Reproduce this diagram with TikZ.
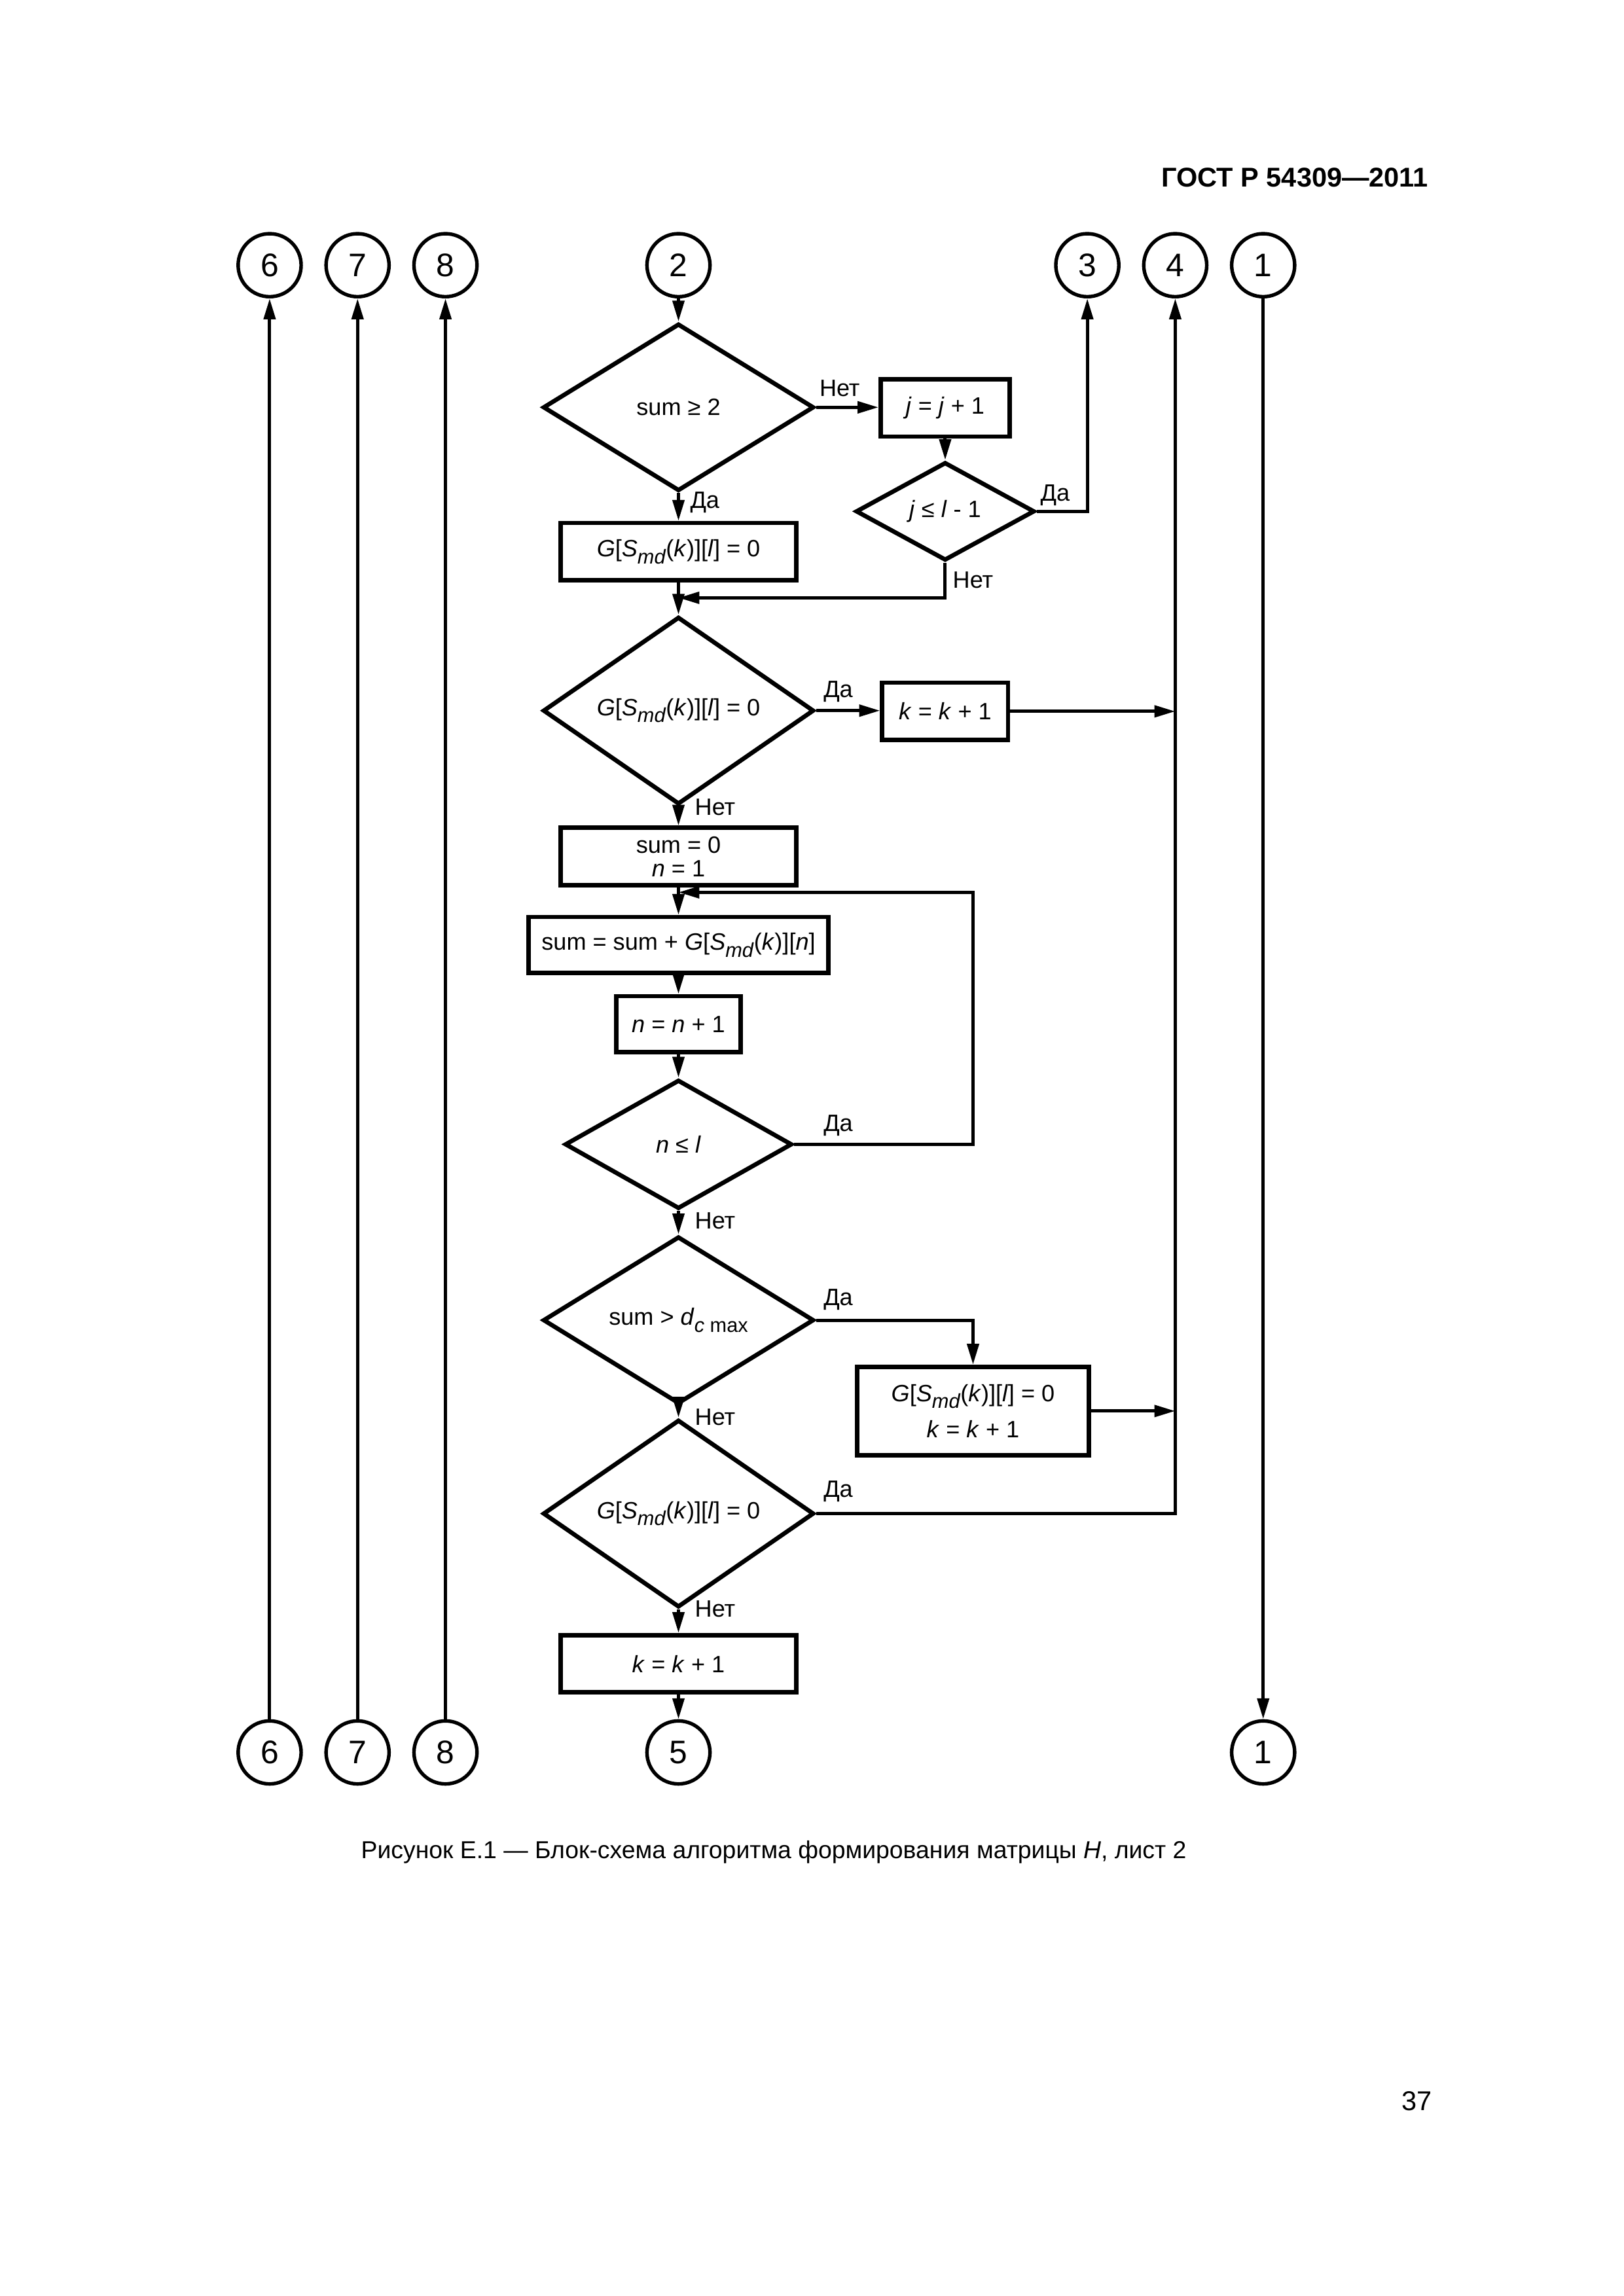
\documentclass[tikz,border=0pt]{standalone}
\usepackage{fontspec}
\setmainfont{Liberation Sans}
\usetikzlibrary{shapes.geometric,arrows.meta}

\newcommand{\lowidx}[1]{\raisebox{-0.55ex}{\fontsize{7.4}{7.4}\selectfont #1}}
\newcommand{\Gsk}{\textit{G}[\textit{S}\lowidx{\textit{md}}(\textit{k})][\textit{l}]}

\tikzset{
  box/.style={draw, line width=1.6pt, inner sep=1pt, minimum height=7.4mm, align=center, font=\fontsize{8.7}{8.7}\selectfont},
  cond/.style={draw, diamond, line width=1.6pt, inner sep=0pt, font=\fontsize{8.7}{8.7}\selectfont},
  conn/.style={draw, circle, line width=1.3pt, minimum size=8.15mm, inner sep=0pt, font=\fontsize{12}{14}\selectfont},
  arr/.style={line width=1.2pt, -{Triangle[length=2.7mm,width=1.5mm]}},
  lbl/.style={inner sep=0pt, font=\fontsize{8.7}{8.7}\selectfont},
}

\begin{document}
\begin{tikzpicture}[x=0.18953mm, y=-0.18953mm]
    %initialisation
    \useasboundingbox (0,0) rectangle (1108,1567);
    %connectors
    \foreach \n/\x in {6/184,7/244,8/304,2/463,3/742,4/802,1/862}
      \node[conn] (t\n) at (\x,181) {\n};
    \foreach \n/\x in {6/184,7/244,8/304,5/463,1/862}
      \node[conn] (b\n) at (\x,1196) {\n};
    %blocks
    \node[cond, minimum width=35.05mm, minimum height=21.64mm] (sum2) at (463,278) {sum ≥ 2};
    \node[box, minimum width=16.68mm] (jinc) at (645,278.5) {\textit{j} = \textit{j} + 1};
    \node[cond, minimum width=23.13mm, minimum height=12.71mm] (jle) at (645,349) {\textit{j} ≤ \textit{l} - 1};
    \node[box, minimum width=30.48mm] (gzero) at (463,376.5) {\Gsk{} = 0};
    \node[cond, minimum width=35.05mm, minimum height=21.64mm] (gtest) at (463,485) {\Gsk{} = 0};
    \node[box, minimum width=16.28mm] (kinc) at (645,485.5) {\textit{k} = \textit{k} + 1};
    \node[box, minimum width=30.48mm] (sinit) at (463,584.5) {sum = 0\\\textit{n} = 1};
    \node[box, minimum width=38.82mm, minimum height=7.25mm] (sadd) at (463,645) {sum = sum + \textit{G}[\textit{S}\lowidx{\textit{md}}(\textit{k})][\textit{n}]};
    \node[box, minimum width=16.08mm, minimum height=7.25mm] (ninc) at (463,699) {\textit{n} = \textit{n} + 1};
    \node[cond, minimum width=29.39mm, minimum height=16.68mm] (nle) at (463,781) {\textit{n} ≤ \textit{l}};
    \node[cond, minimum width=35.05mm, minimum height=21.64mm] (smax) at (463,901) {sum > \textit{d}\lowidx{\textit{c} max}};
    \node[box, minimum width=29.98mm, minimum height=11.42mm] (gkinc) at (664,963) {\Gsk{} = 0\\[1.2mm]\textit{k} = \textit{k} + 1};
    \node[cond, minimum width=35.05mm, minimum height=21.64mm] (gtestb) at (463,1033) {\Gsk{} = 0};
    \node[box, minimum width=30.48mm] (kincb) at (463,1135.5) {\textit{k} = \textit{k} + 1};
    %definitions
    \coordinate (m1) at (463,408);
    \coordinate (m2) at (463,609);
    \coordinate (r2) at (664,609);
    %drawing
    \foreach \n in {6,7,8}
      \draw[arr] (b\n) -- (t\n);
    \draw[arr] (t1) -- (b1);
    \draw[arr] (t2) -- (sum2);
    \draw[arr] (sum2.east) -- (jinc.west |- sum2.east);
    \draw[arr] (jinc) -- (jle);
    \draw[arr] (jle.east) -| (t3);
    \draw[arr] (jle.south) |- (m1);
    \draw[arr] (sum2) -- (gzero);
    \draw[arr] (gzero) -- (gtest);
    \draw[arr] (gtest.east) -- (kinc.west |- gtest.east);
    \draw[arr] (kinc.east) -- (kinc.east -| t4);
    \draw[arr] (gtest) -- (sinit);
    \draw[arr] (sinit) -- (sadd);
    \draw[arr] (sadd) -- (ninc);
    \draw[arr] (ninc) -- (nle);
    \draw[arr] (nle.east) -| (r2) -- (m2);
    \draw[arr] (nle) -- (smax);
    \draw[arr] (smax.east) -| (gkinc.north);
    \draw[arr] (gkinc.east) -- (gkinc.east -| t4);
    \draw[arr] (smax) -- (gtestb);
    \draw[arr] (gtestb.east) -| (t4);
    \draw[arr] (gtestb) -- (kincb);
    \draw[arr] (kincb) -- (b5);
    %label
    \node[lbl] (no1) at (573,265) {Нет};
    \node[lbl] (yes1) at (481,343) {Да};
    \node[lbl] (yes2) at (720,338) {Да};
    \node[lbl] (no2) at (664,396) {Нет};
    \node[lbl] (yes3) at (572,472) {Да};
    \node[lbl] (no3) at (488,551) {Нет};
    \node[lbl] (yes4) at (572,768) {Да};
    \node[lbl] (no4) at (488,833) {Нет};
    \node[lbl] (yes5) at (572,887) {Да};
    \node[lbl] (no5) at (488,967) {Нет};
    \node[lbl] (yes6) at (572,1018) {Да};
    \node[lbl] (no6) at (488,1098) {Нет};
    \node[anchor=east, inner sep=0pt, font=\bfseries\fontsize{10}{12}\selectfont] (gost) at (975,121) {ГОСТ Р 54309—2011};
    \node[inner sep=0pt, font=\fontsize{9}{11}\selectfont] (caption) at (528,1264) {Рисунок Е.1 — Блок-схема алгоритма формирования матрицы \textit{H}, лист 2};
    \node[inner sep=0pt, font=\fontsize{10}{12}\selectfont] (page) at (967,1434) {37};
\end{tikzpicture}
\end{document}
